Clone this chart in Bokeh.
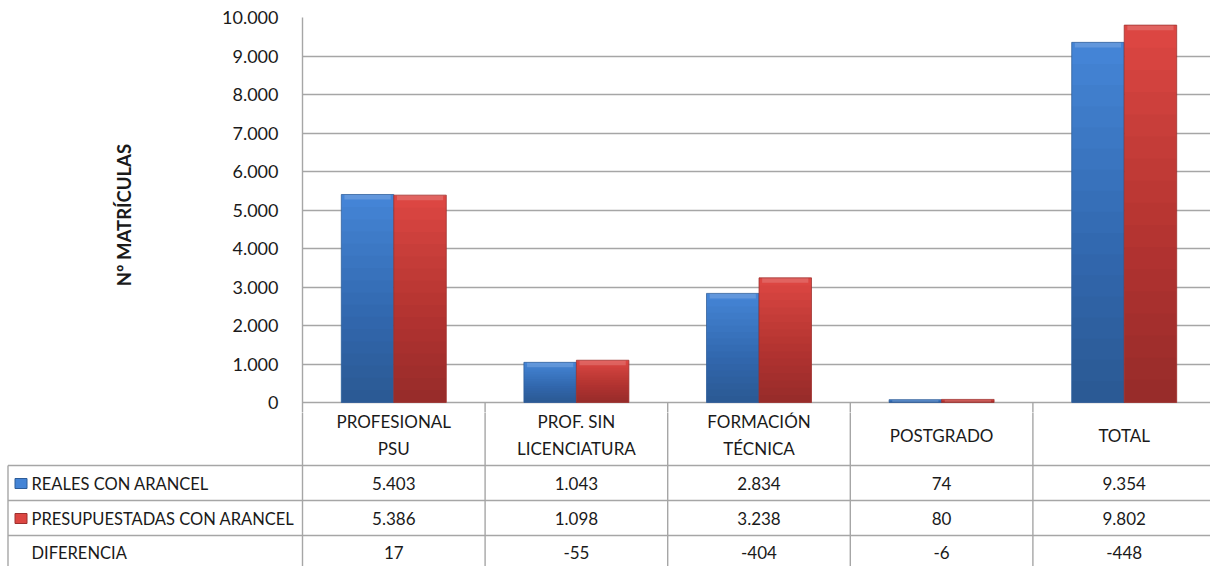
from bokeh.plotting import figure
from bokeh.models import Range1d, FixedTicker, CustomJSTickFormatter
from bokeh.layouts import column
from bokeh.core.properties import value
from bokeh.embed import file_html
from bokeh.resources import INLINE
import numpy as np

# ---- data ----
categories = ["PROFESIONAL\nPSU", "PROF. SIN\nLICENCIATURA", "FORMACIÓN\nTÉCNICA", "POSTGRADO", "TOTAL"]
reales = [5403, 1043, 2834, 74, 9354]
presupuestadas = [5386, 1098, 3238, 80, 9802]
diferencia = [17, -55, -404, -6, -448]
series_names = ["REALES CON ARANCEL", "PRESUPUESTADAS CON ARANCEL", "DIFERENCIA"]
y_ticks = [0, 1000, 2000, 3000, 4000, 5000, 6000, 7000, 8000, 9000, 10000]

FONT = "Lato"
TXT = "#1a1a1a"
GRID = "#a6a6a6"
BLUE_TOP, BLUE_EDGE = "#4484d6", "#2d5c98"
RED_TOP, RED_EDGE = "#dc4642", "#9c302e"

W = 1210
TOP_H = 412
BOT_H = 154
CAT_PX = 182.6           # pixel width of one category
LEFT_PX = 302            # chart frame left
x_end = (W - LEFT_PX) / CAT_PX
PX_PER_UNIT = (402 - 17) / 10000.0
y_bottom = -(412 - 402) / PX_PER_UNIT

def fmt(v):
    s = f"{abs(v):,}".replace(",", ".")
    return ("-" if v < 0 else "") + s

def dx(px):  # page px -> category units
    return (px - LEFT_PX) / CAT_PX

# ---- chart ----
top = figure(width=W, height=TOP_H, output_backend="svg", toolbar_location=None,
             x_range=Range1d(0, x_end), y_range=Range1d(y_bottom, 10000),
             min_border_left=LEFT_PX, min_border_right=0, min_border_top=17, min_border_bottom=0,
             frame_align=False)
top.outline_line_color = None
top.xaxis.visible = False
top.xgrid.visible = False
top.ygrid.ticker = FixedTicker(ticks=y_ticks)
top.ygrid.grid_line_color = GRID
top.ygrid.grid_line_width = 1.4
yax = top.yaxis[0]
yax.ticker = FixedTicker(ticks=y_ticks)
yax.formatter = CustomJSTickFormatter(code="return Math.round(tick).toString().replace(/\\B(?=(\\d{3})+(?!\\d))/g, '.');")
yax.major_tick_line_color = None
yax.minor_tick_line_color = None
yax.axis_line_color = GRID
yax.axis_line_width = 1.4
yax.major_label_standoff = 18
yax.major_label_text_font = FONT
yax.major_label_text_font_size = "18px"
yax.major_label_text_color = TXT
yax.axis_label = "Nº MATRÍCULAS"
yax.axis_label_text_font = FONT
yax.axis_label_text_font_style = "bold"
yax.axis_label_text_font_size = "18.5px"
yax.axis_label_text_color = TXT
yax.axis_label_standoff = 84

n = len(categories)
xc = np.arange(n) + 0.5
bw = 52.5 / CAT_PX
xb = xc - bw / 2
xr = xc + bw / 2
rv = np.array(reales, dtype=float)
pv = np.array(presupuestadas, dtype=float)

# table column borders continuing into the chart's bottom margin
top.segment(x0=list(range(1, n)), x1=list(range(1, n)), y0=[0] * (n - 1), y1=[y_bottom * 2] * (n - 1),
            line_color=GRID, line_width=1.4)

for xs, vals, ctop, cedge in [(xb, rv, BLUE_TOP, BLUE_EDGE), (xr, pv, RED_TOP, RED_EDGE)]:
    top.vbar(x=xs, top=vals, bottom=0, width=bw, fill_color=ctop, line_color=None)
    for f in np.linspace(0.94, 0.06, 16):
        top.vbar(x=xs, top=vals * f, bottom=0, width=bw, fill_color="black",
                 fill_alpha=0.021, line_color=None)
    top.vbar(x=xs, top=vals, bottom=np.maximum(vals - 130, 0), width=bw * 0.88,
             fill_color="white", fill_alpha=0.16, line_color=None)
    top.vbar(x=xs, top=vals, bottom=0, width=bw, fill_color=None,
             line_color=cedge, line_width=1, line_alpha=0.75)

# ---- data table ----
bot = figure(width=W, height=BOT_H, output_backend="svg", toolbar_location=None,
             x_range=Range1d(dx(0), x_end), y_range=Range1d(BOT_H, 0),
             min_border=0, frame_align=False)
bot.outline_line_color = None
bot.axis.visible = False
bot.grid.visible = False

row_lines = [53, 88, 123]
row_mid = [71, 106, 140]
left_x = dx(7.5)
bot.segment(x0=[left_x] * 3, x1=[n] * 3, y0=row_lines, y1=row_lines, line_color=GRID, line_width=1.4)
bot.segment(x0=list(range(n)), x1=list(range(n)), y0=[-5] * n, y1=[BOT_H + 5] * n, line_color=GRID, line_width=1.4)
bot.segment(x0=[left_x], x1=[left_x], y0=[53], y1=[BOT_H + 5], line_color=GRID, line_width=1.4)

# headers
hx, hy, ht = [], [], []
for i, c in enumerate(categories):
    parts = c.split("\n")
    if len(parts) == 1:
        hx.append(i + 0.5); hy.append(23); ht.append(parts[0])
    else:
        hx += [i + 0.5, i + 0.5]; hy += [9, 36]; ht += parts
bot.text(x=hx, y=hy, text=ht, text_align="center", text_baseline="middle",
         text_font=value(FONT), text_font_size="17px", text_color=TXT)

for vals, ym in zip([reales, presupuestadas, diferencia], row_mid):
    bot.text(x=list(xc), y=[ym] * n, text=[fmt(v) for v in vals], text_align="center",
             text_baseline="middle", text_font=value(FONT), text_font_size="17px", text_color=TXT)

bot.text(x=[dx(31)] * 3, y=row_mid, text=series_names, text_align="left", text_baseline="middle",
         text_font=value(FONT), text_font_size="16.5px", text_color=TXT)
bot.rect(x=[dx(20.5)] * 2, y=row_mid[:2], width=12, height=10, width_units="screen", height_units="screen",
         fill_color=[BLUE_TOP, RED_TOP], line_color=[BLUE_EDGE, RED_EDGE], line_width=1)

layout = column(top, bot, spacing=0)
open("out.html", "w").write(file_html(layout, INLINE))
